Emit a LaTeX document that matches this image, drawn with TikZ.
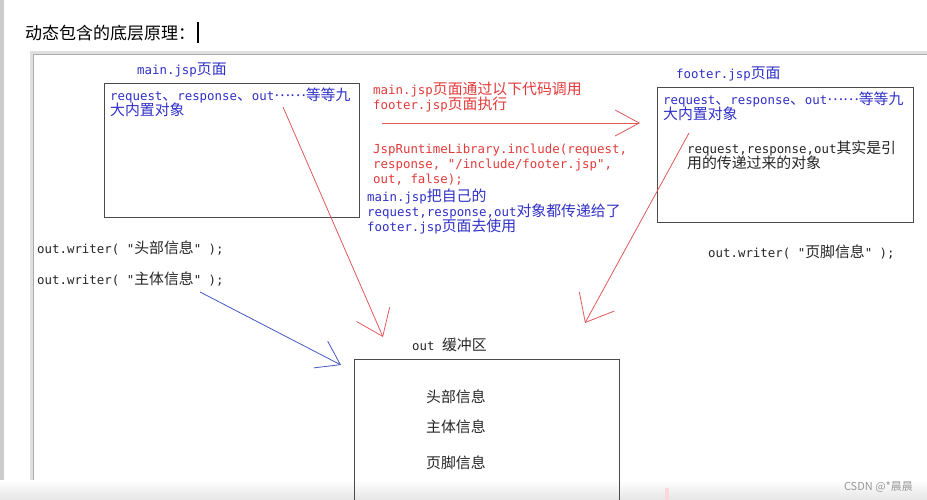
\documentclass[tikz,border=0pt]{standalone}
\usepackage{fontspec}
\usetikzlibrary{arrows.meta}

\newfontfamily\codefont{DejaVu Sans Mono}
\newfontfamily\cjk[Scale=1.2]{Noto Sans CJK SC}
\newfontfamily\titlefont{Noto Sans CJK SC}
\newcommand{\zh}[1]{{\cjk #1}}
\newcommand{\middots}{\raisebox{4pt}{\zh{……}}}
\newcommand{\codesize}{\codefont\fontsize{12.4}{15}\selectfont\lineskiplimit=-20pt}

\definecolor{penred}{HTML}{E23A3A}
\definecolor{penblue}{HTML}{3030C8}
\definecolor{inkred}{HTML}{E05A5A}
\definecolor{inkblue}{HTML}{4658C4}
\definecolor{boxgray}{HTML}{4A4A4A}

\tikzset{
	code/.style={font=\codesize, align=left, anchor=base west, inner sep=0pt},
	frame/.style={draw=boxgray, line width=1.3pt, anchor=north west, inner sep=0pt},
	pen/.style={line width=0.8pt},
}

\begin{document}
\begin{tikzpicture}[x=1pt, y=-1pt]
	\useasboundingbox (0,0) rectangle (927,500);
	
	% page and drawing panel
	\fill[gray!40] (0,0) rectangle (4,500);
	\fill[white] (33,55) rectangle (927,500);
	\draw[gray!25, line width=3pt] (31,500) -- (31,53) -- (927,53);
	\draw[gray!65, line width=1pt] (33,500) -- (33,55) -- (927,55);
	\shade[top color=white, bottom color=gray!20] (0,480) rectangle (927,500);
	
	% title
	\node[anchor=west, inner sep=0pt, font=\titlefont\fontsize{17}{19}\selectfont] (title) at (25,33) {动态包含的底层原理：};
	\draw[line width=2pt] (198,22) -- (198,43);
	
	% main.jsp (base anchor sits on the last line)
	\node[code, text=penblue] (mainlbl) at (137,75) {main.jsp\zh{页面}};
	\node[frame, minimum width=255pt, minimum height=134pt] (mainbox) at (104,83) {};
	\node[code, text=penblue] (mainobj) at (110,116) {request\zh{、}response\zh{、}out\middots\zh{等等九}\\\zh{大内置对象}};
	
	% footer.jsp
	\node[code, text=penblue] (footlbl) at (676,79) {footer.jsp\zh{页面}};
	\node[frame, minimum width=256pt, minimum height=135pt] (footbox) at (657,87) {};
	\node[code, text=penblue] (footobj) at (663,120) {request\zh{、}response\zh{、}out\middots\zh{等等九}\\\zh{大内置对象}};
	\node[code, text=black!85] (footref) at (687,168) {request,response,out\zh{其实是引}\\\zh{用的传递过来的对象}};
	
	% notes in the middle
	\node[code, text=penred] (callnote) at (373,110) {main.jsp\zh{页面通过以下代码调用}\\footer.jsp\zh{页面执行}};
	\node[code, text=penred] (callcode) at (373,184) {JspRuntimeLibrary.include(request,\\response, "/include/footer.jsp",\\out, false);};
	\node[code, text=penblue] (passnote) at (367,232) {main.jsp\zh{把自己的}\\request,response,out\zh{对象都传递给了}\\footer.jsp\zh{页面去使用}};
	
	% out.writer calls
	\node[code, text=black!85] (headw) at (37,253) {out.writer( "\zh{头部信息}" );};
	\node[code, text=black!85] (bodyw) at (37,284) {out.writer( "\zh{主体信息}" );};
	\node[code, text=black!85] (footw) at (708,257) {out.writer( "\zh{页脚信息}" );};
	
	% out buffer
	\node[code, text=black!85] (buflbl) at (412,350) {out \zh{缓冲区}};
	\node[frame, minimum width=265pt, minimum height=160pt] (bufbox) at (354,359) {};
	\foreach \txt/\y [count=\i] in {头部信息/402, 主体信息/432, 页脚信息/468}
		\node[code, text=black!85] (buf-\i) at (426,\y) {\zh{\txt}};
	
	% arrows
	\coordinate (callS) at (382,123);
	\coordinate (callE) at (640,123);
	\coordinate (mainS) at (283,107);
	\coordinate (mainE) at (383,337);
	\coordinate (footS) at (689,133);
	\coordinate (footE) at (585,323);
	\coordinate (bodyS) at (200,292);
	\coordinate (bodyE) at (341,365);
	\draw[pen, inkred, -{Straight Barb[length=24pt, width=26pt]}] (callS) -- (callE);
	\draw[pen, inkred, -{Straight Barb[length=24pt, width=36pt]}] (mainS) -- (mainE);
	\draw[pen, inkred, -{Straight Barb[length=24pt, width=40pt]}] (footS) -- (footE);
	\draw[pen, inkblue, -{Straight Barb[length=22pt, width=30pt]}] (bodyS) -- (bodyE);
	
	% watermark
	\fill[pink!60] (665,488) rectangle (669,500);
	\node[anchor=east, inner sep=0pt, text=gray!80, font=\titlefont\fontsize{11}{13}\selectfont] (mark) at (913,487) {CSDN @*晨晨};
\end{tikzpicture}
\end{document}
